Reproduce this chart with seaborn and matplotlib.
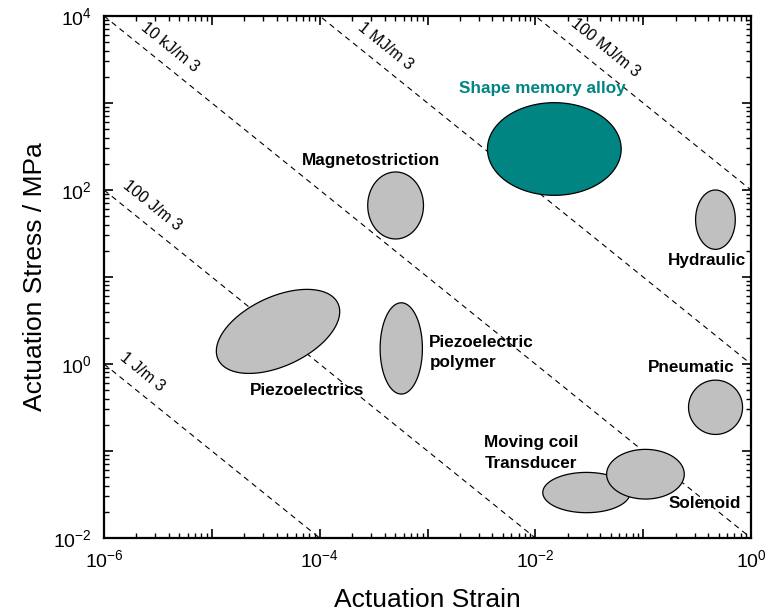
import numpy as np
import pandas as pd
import matplotlib
matplotlib.use("Agg")
import matplotlib.pyplot as plt
from matplotlib.ticker import FixedLocator, FixedFormatter, NullFormatter
import seaborn as sns

# ---- iso-energy-density guide lines (stress x strain, MPa = MJ/m^3) ----
energy_names = ["1 J/m 3", "100 J/m 3", "10 kJ/m 3", "1 MJ/m 3", "100 MJ/m 3"]
energy_mpa = [1e-6, 1e-4, 1e-2, 1e0, 1e2]
energy_label_strain = [2.25e-6, 2.8e-6, 4.1e-6, 4.1e-4, 4.45e-2]
energy_label_stress = [0.81, 65.5, 4400.0, 4520.0, 4290.0]

# ---- actuator regions: centre, extent in decades, tilt of the outline ----
actuators = ["Piezoelectrics", "Piezoelectric polymer", "Magnetostriction",
             "Shape memory alloy", "Hydraulic", "Pneumatic",
             "Moving coil", "Solenoid"]
strain_center = [4.11e-5, 5.71e-4, 5.06e-4, 1.50e-2, 0.468, 0.469, 2.98e-2, 0.105]
stress_center = [2.37, 1.51, 66.4, 296.0, 45.6, 0.318, 0.0333, 0.0541]
strain_span = [1.144, 0.392, 0.517, 1.240, 0.368, 0.501, 0.810, 0.720]
stress_span = [0.966, 1.049, 0.770, 1.065, 0.682, 0.624, 0.463, 0.571]
tilt_deg = [28.0, 0, 0, 0, 0, 0, 0, 0]
highlight = "Shape memory alloy"

# ---- region captions ----
caption_text = ["Piezoelectrics", "Piezoelectric\npolymer", "Magnetostriction",
                "Shape memory alloy", "Hydraulic", "Pneumatic",
                "Moving coil\nTransducer", "Solenoid"]
caption_strain = [7.64e-5, 1.04e-3, 3.0e-4, 1.156e-2, 0.393, 0.282, 3.37e-3, 0.372]
caption_stress = [0.502, 1.355, 221.0, 1486.0, 15.3, 0.90, 0.0948, 0.0246]
caption_align = ["center", "left", "center", "center", "center", "center", "left", "center"]

# ---- axes ----
x_exponents = list(range(-6, 1))
y_exponents = list(range(-2, 5))
minor_mantissas = [2, 3, 4, 5, 6, 7, 8, 9]
x_tick_labels = ["$10^{-6}$", "", "$10^{-4}$", "", "$10^{-2}$", "", "$10^{0}$"]
y_tick_labels = ["$10^{-2}$", "", "$10^{0}$", "", "$10^{2}$", "", "$10^{4}$"]
x_label = "Actuation Strain"
y_label = "Actuation Stress / MPa"

TEAL = "#008582"
GREY = "#c0c0c0"

sns.set_theme(style="ticks")
plt.rcParams["font.family"] = ["Liberation Sans", "DejaVu Sans"]
plt.rcParams["mathtext.fontset"] = "custom"
plt.rcParams["mathtext.rm"] = "Liberation Sans"
plt.rcParams["mathtext.it"] = "Liberation Sans:italic"
plt.rcParams["mathtext.bf"] = "Liberation Sans:bold"
plt.rcParams.update({
    "xtick.direction": "in", "ytick.direction": "in",
    "xtick.top": True, "ytick.right": True,
    "xtick.color": "black", "ytick.color": "black",
    "xtick.labelcolor": "black", "ytick.labelcolor": "black",
    "xtick.labelsize": 14, "ytick.labelsize": 14,
    "xtick.major.size": 6.5, "ytick.major.size": 6.5,
    "xtick.major.width": 1.2, "ytick.major.width": 1.2,
    "xtick.minor.size": 3.5, "ytick.minor.size": 3.5,
    "xtick.major.pad": 8, "ytick.major.pad": 9,
    "axes.edgecolor": "black", "axes.linewidth": 1.6,
    "axes.labelcolor": "black",
})

fig = plt.figure(figsize=(7.73, 6.12), dpi=100, facecolor="white")
ax = fig.add_axes([104 / 773, 74 / 612, 647 / 773, 522 / 612])
ax.set_xscale("log")
ax.set_yscale("log")

# guide lines, drawn end to end across the strain range
rows = []
for name, e in zip(energy_names, energy_mpa):
    for s in (1e-6, 1e0):
        rows.append({"energy": name, "strain": s, "stress": e / s})
lines = pd.DataFrame(rows)
sns.lineplot(data=lines, x="strain", y="stress", units="energy", estimator=None,
             sort=False, color="black", lw=0.8, linestyle=(0, (5, 4)),
             legend=False, ax=ax, zorder=1)

angle = -np.degrees(np.arctan((522 / 6) / (647 / 6)))
for name, xs, ys in zip(energy_names, energy_label_strain, energy_label_stress):
    ax.text(xs, ys, name, rotation=angle, rotation_mode="anchor",
            ha="center", va="center", fontsize=11.5, color="black", zorder=2)

# actuator regions as ellipses in log-log space
t = np.linspace(0, 2 * np.pi, 361)
for name, xc, yc, xw, yh, tilt in zip(actuators, strain_center, stress_center,
                                       strain_span, stress_span, tilt_deg):
    u = np.log10(xc) + 0.5 * xw * np.cos(t)
    v = np.log10(yc) + 0.5 * yh * np.sin(t + np.radians(tilt))
    face = TEAL if name == highlight else GREY
    ax.fill(10 ** u, 10 ** v, facecolor=face, edgecolor="black", lw=0.9, zorder=3)

for txt, xs, ys, ha in zip(caption_text, caption_strain, caption_stress, caption_align):
    color = TEAL if txt == highlight else "black"
    ax.text(xs, ys, txt, ha=ha, va="center", fontsize=12.3, fontweight="bold",
            color=color, linespacing=1.45, zorder=4)

ax.set_xlim(1e-6, 1e0)
ax.set_ylim(1e-2, 1e4)
ax.xaxis.set_major_locator(FixedLocator([10.0 ** e for e in x_exponents]))
ax.yaxis.set_major_locator(FixedLocator([10.0 ** e for e in y_exponents]))
ax.xaxis.set_major_formatter(FixedFormatter(x_tick_labels))
ax.yaxis.set_major_formatter(FixedFormatter(y_tick_labels))
ax.xaxis.set_minor_locator(FixedLocator(
    [m * 10.0 ** e for e in x_exponents[:-1] for m in minor_mantissas]))
ax.yaxis.set_minor_locator(FixedLocator(
    [m * 10.0 ** e for e in y_exponents[:-1] for m in minor_mantissas]))
ax.xaxis.set_minor_formatter(NullFormatter())
ax.yaxis.set_minor_formatter(NullFormatter())

ax.set_xlabel(x_label, fontsize=19, labelpad=12)
ax.set_ylabel(y_label, fontsize=19, labelpad=4)

fig.savefig("out.png", dpi=100, facecolor="white")
